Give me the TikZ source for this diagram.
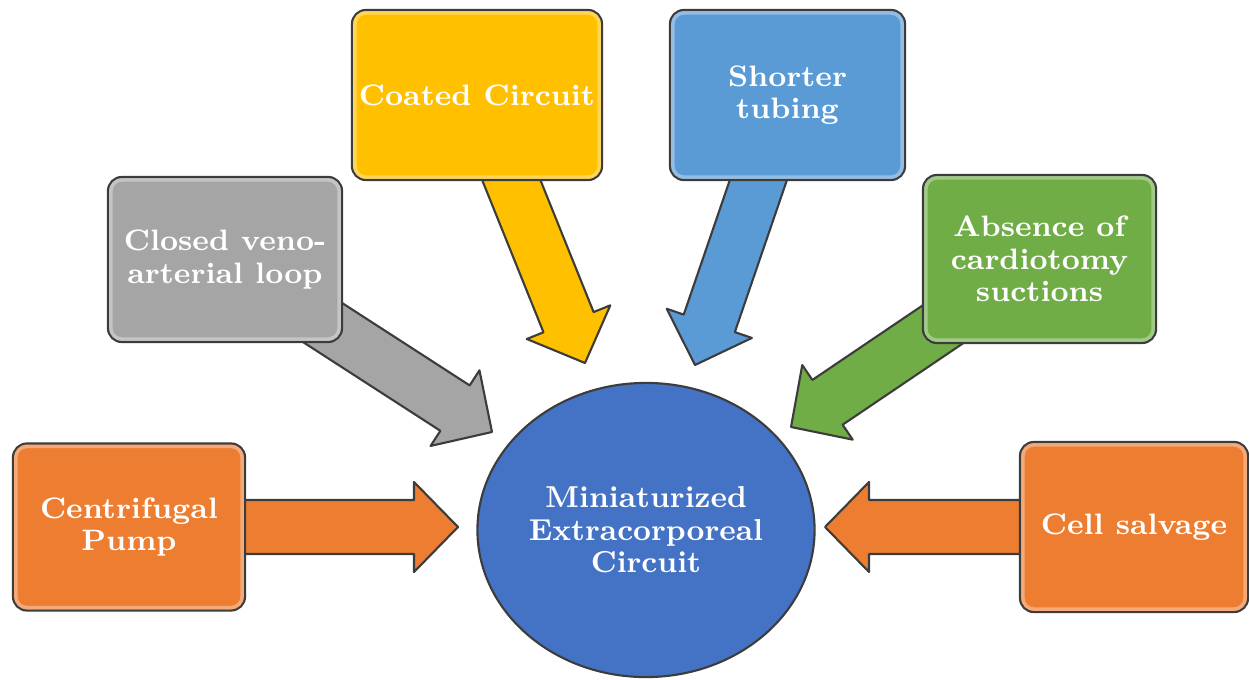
\documentclass[tikz,border=0pt]{standalone}
\usepackage{tikz}
\usetikzlibrary{shapes.geometric,calc,backgrounds}

\definecolor{edgegray}{HTML}{3C3C3C}
\definecolor{pumporange}{HTML}{ED7D31}
\definecolor{loopgray}{HTML}{A5A5A5}
\definecolor{coatyellow}{HTML}{FFC000}
\definecolor{tubeblue}{HTML}{5B9BD5}
\definecolor{suctgreen}{HTML}{70AD47}
\definecolor{hubblue}{HTML}{4472C4}

\tikzset{
  feature/.style={draw=edgegray, line width=.6pt, rounded corners=.14cm,
    minimum width=2.33cm, minimum height=1.68cm, inner sep=2pt,
    text=white, align=center, font=\bfseries\fontsize{8.4}{9.2}\selectfont},
  hub/.style={ellipse, draw=edgegray, line width=.6pt, fill=hubblue,
    minimum width=3.37cm, minimum height=2.94cm, inner sep=0pt, inner xsep=-2pt,
    text=white, align=center, font=\bfseries\fontsize{8.6}{9.2}\selectfont},
  gloss/.style={white, opacity=.35, line width=1pt, rounded corners=.11cm}
}

% fat block arrow from a node centre to a tip coordinate
\newcommand\fatarrow[3]{%
  \path ($(#2)!.44cm!(#1.center)$) coordinate (hb);
  \draw[edgegray, line width=.6pt, fill=#3, line join=round]
    ($(#1.center)!.27cm!90:(#2)$) -- ($(hb)!.27cm!-90:(#1.center)$)
    -- ($(hb)!.45cm!-90:(#1.center)$) -- (#2)
    -- ($(hb)!.45cm!90:(#1.center)$) -- ($(hb)!.27cm!90:(#1.center)$)
    -- ($(#1.center)!.27cm!-90:(#2)$) -- cycle;}

\begin{document}
\begin{tikzpicture}[x=0.01cm, y=-0.01cm]
  \useasboundingbox (0,0) rectangle (1249,679);

  % boxes
  \node[feature, fill=pumporange, minimum width=2.32cm, minimum height=1.67cm] (pump) at (129,527) {Centrifugal\\Pump};
  \node[feature, fill=loopgray, minimum width=2.34cm, minimum height=1.65cm] (loop) at (225,259.5) {Closed veno-\\arterial loop};
  \node[feature, fill=coatyellow, minimum height=1.7cm] (coat) at (477,95) {Coated Circuit};
  \node[feature, fill=tubeblue, minimum width=2.35cm, minimum height=1.7cm] (tube) at (787.5,95) {Shorter\\tubing};
  \node[feature, fill=suctgreen] (suct) at (1039.5,259) {Absence of\\cardiotomy\\suctions};
  \node[feature, fill=pumporange, minimum width=2.28cm, minimum height=1.7cm] (salv) at (1134,527) {Cell salvage};
  \node[hub] (mec) at (646,530) {Miniaturized\\Extracorporeal\\Circuit};

  \foreach \n in {pump,loop,coat,tube,suct,salv}
    \draw[gloss] ($(\n.south west)+(4,-4)$) rectangle ($(\n.north east)+(-4,4)$);

  % tips of the arrows
  \coordinate (pumptip) at (458,527);
  \coordinate (looptip) at (492,432);
  \coordinate (coattip) at (585,363);
  \coordinate (tubetip) at (695,365);
  \coordinate (sucttip) at (791,427);
  \coordinate (salvtip) at (825,527);

  \begin{scope}[on background layer]
    \fatarrow{pump}{pumptip}{pumporange}
    \fatarrow{loop}{looptip}{loopgray}
    \fatarrow{coat}{coattip}{coatyellow}
    \fatarrow{tube}{tubetip}{tubeblue}
    \fatarrow{suct}{sucttip}{suctgreen}
    \fatarrow{salv}{salvtip}{pumporange}
  \end{scope}
\end{tikzpicture}
\end{document}
